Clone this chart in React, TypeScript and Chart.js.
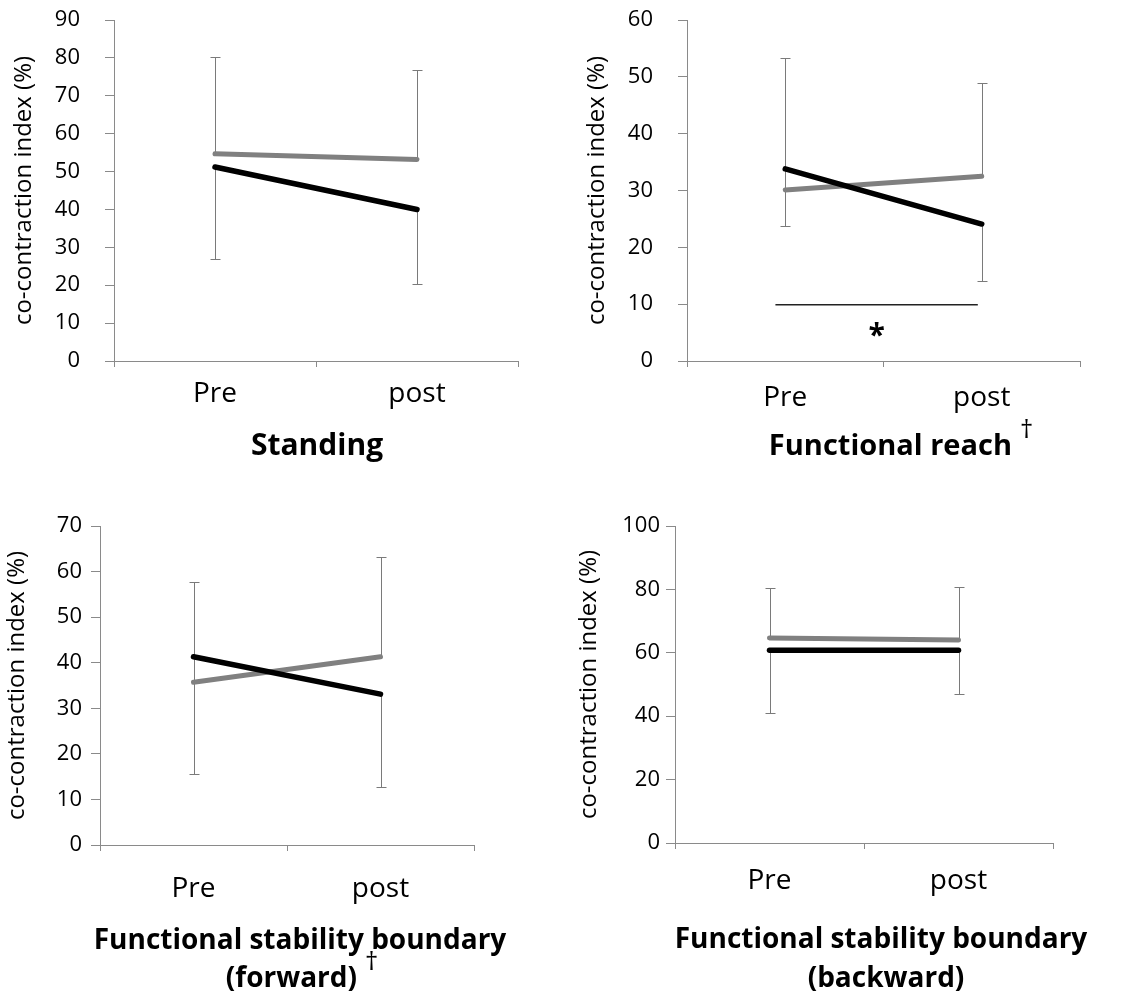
import React, { useEffect, useRef } from "react";
import { Chart, registerables } from "chart.js";
Chart.register(...registerables);

// ---------- DATA ----------
const categories = ["Pre", "post"];

// Standing
const standingGray = [54.7, 53.2];
const standingGrayPlusSD = [25.6, 23.5];
const standingBlack = [51.2, 40.0];
const standingBlackMinusSD = [24.3, 19.8];

// Functional reach
const reachGray = [30.1, 32.5];
const reachGrayPlusSD = [23.2, 16.4];
const reachBlack = [33.8, 24.1];
const reachBlackMinusSD = [10.0, 10.0];
const reachSigLineY = 9.9;
const reachSigLineFrom = -0.05;
const reachSigLineTo = 0.98;
const reachSigStarY = 5.5;

// Functional stability boundary (forward)
const forwardGray = [35.7, 41.3];
const forwardGrayPlusSD = [22.0, 21.9];
const forwardBlack = [41.3, 33.1];
const forwardBlackMinusSD = [25.8, 20.3];

// Functional stability boundary (backward)
const backwardGray = [64.7, 64.0];
const backwardGrayPlusSD = [15.8, 16.8];
const backwardBlack = [60.8, 60.8];
const backwardBlackMinusSD = [19.8, 13.9];

const yAxisMax = [90, 60, 70, 100];
const yAxisStep = [10, 10, 10, 20];
const yAxisTitle = "co-contraction index (%)";
const panelTitles = [
  [{ text: "Standing", dagger: false }],
  [{ text: "Functional reach", dagger: true }],
  [
    { text: "Functional stability boundary", dagger: false },
    { text: "(forward)", dagger: true },
  ],
  [
    { text: "Functional stability boundary", dagger: false },
    { text: "(backward)", dagger: false },
  ],
];

// ---------- STYLE / LAYOUT ----------
const FONT = "'Open Sans', sans-serif";
const AXIS_COLOR = "#8a8a8a";
const GRAY = "#808080";
const BLACK = "#000000";
const ERR_COLOR = "#7a7a7a";

type PanelCfg = {
  left: number;
  top: number;
  w: number;
  h: number;
  plotLeft: number;
  plotRight: number;
  plotTop: number;
  plotBottom: number;
  yTickPad: number;
  yTitlePad: number;
  xTickPad: number;
  titleCenters: number[];
  titleBaselines: number[];
  titleSize: number;
  gray: number[];
  grayPlus: number[];
  black: number[];
  blackMinus: number[];
  yMax: number;
  yStep: number;
  titles: { text: string; dagger: boolean }[];
  sig?: { y: number; from: number; to: number; starY: number };
};

const panels: PanelCfg[] = [
  {
    left: 0, top: 0, w: 567, h: 500,
    plotLeft: 114, plotRight: 518, plotTop: 20, plotBottom: 361,
    yTickPad: 25, yTitlePad: 10, xTickPad: 10,
    titleCenters: [317], titleBaselines: [455], titleSize: 30,
    gray: standingGray, grayPlus: standingGrayPlusSD,
    black: standingBlack, blackMinus: standingBlackMinusSD,
    yMax: yAxisMax[0], yStep: yAxisStep[0], titles: panelTitles[0],
  },
  {
    left: 567, top: 0, w: 568, h: 500,
    plotLeft: 120, plotRight: 513, plotTop: 20, plotBottom: 361,
    yTickPad: 25, yTitlePad: 16, xTickPad: 14,
    titleCenters: [334], titleBaselines: [455], titleSize: 29,
    gray: reachGray, grayPlus: reachGrayPlusSD,
    black: reachBlack, blackMinus: reachBlackMinusSD,
    yMax: yAxisMax[1], yStep: yAxisStep[1], titles: panelTitles[1],
    sig: { y: reachSigLineY, from: reachSigLineFrom, to: reachSigLineTo, starY: reachSigStarY },
  },
  {
    left: 0, top: 500, w: 567, h: 494,
    plotLeft: 100, plotRight: 474, plotTop: 26, plotBottom: 345,
    yTickPad: 9, yTitlePad: 3, xTickPad: 21,
    titleCenters: [300, 302], titleBaselines: [449, 487], titleSize: 28,
    gray: forwardGray, grayPlus: forwardGrayPlusSD,
    black: forwardBlack, blackMinus: forwardBlackMinusSD,
    yMax: yAxisMax[2], yStep: yAxisStep[2], titles: panelTitles[2],
  },
  {
    left: 567, top: 500, w: 568, h: 494,
    plotLeft: 108, plotRight: 486, plotTop: 26, plotBottom: 343,
    yTickPad: 6, yTitlePad: 8, xTickPad: 15,
    titleCenters: [314, 319], titleBaselines: [448, 487], titleSize: 28,
    gray: backwardGray, grayPlus: backwardGrayPlusSD,
    black: backwardBlack, blackMinus: backwardBlackMinusSD,
    yMax: yAxisMax[3], yStep: yAxisStep[3], titles: panelTitles[3],
  },
];

function Panel({ cfg }: { cfg: PanelCfg }) {
  const ref = useRef<HTMLCanvasElement | null>(null);

  useEffect(() => {
    if (!ref.current) return;

    const extras = {
      id: "extras",
      beforeDatasetsDraw(chart: any) {
        const ctx = chart.ctx;
        const xs = chart.scales.x;
        const ys = chart.scales.y;
        ctx.save();
        ctx.strokeStyle = ERR_COLOR;
        ctx.lineWidth = 1;
        const drawBar = (i: number, from: number, to: number) => {
          const x = Math.round(xs.getPixelForValue(i)) + 0.5;
          const y0 = ys.getPixelForValue(from);
          const y1 = Math.round(ys.getPixelForValue(to)) + 0.5;
          ctx.beginPath();
          ctx.moveTo(x, y0);
          ctx.lineTo(x, y1);
          ctx.moveTo(x - 5, y1);
          ctx.lineTo(x + 5, y1);
          ctx.stroke();
        };
        cfg.gray.forEach((v, i) => drawBar(i, v, v + cfg.grayPlus[i]));
        cfg.black.forEach((v, i) => drawBar(i, v, v - cfg.blackMinus[i]));
        ctx.restore();
      },
      afterDatasetsDraw(chart: any) {
        if (!cfg.sig) return;
        const ctx = chart.ctx;
        const xs = chart.scales.x;
        const ys = chart.scales.y;
        const s = cfg.sig;
        ctx.save();
        ctx.strokeStyle = "#222";
        ctx.lineWidth = 1.5;
        const y = ys.getPixelForValue(s.y);
        ctx.beginPath();
        ctx.moveTo(xs.getPixelForValue(s.from), y);
        ctx.lineTo(xs.getPixelForValue(s.to), y);
        ctx.stroke();
        ctx.font = `bold 30px ${FONT}`;
        ctx.fillStyle = "#000";
        ctx.textAlign = "center";
        ctx.textBaseline = "alphabetic";
        const m = ctx.measureText("*");
        const cy = ys.getPixelForValue(s.starY);
        const base = cy + (m.actualBoundingBoxAscent - m.actualBoundingBoxDescent) / 2;
        ctx.fillText("*", xs.getPixelForValue((s.from + s.to) / 2), base);
        ctx.restore();
      },
      afterDraw(chart: any) {
        const ctx = chart.ctx;
        ctx.save();
        ctx.fillStyle = "#000";
        ctx.textBaseline = "alphabetic";
        ctx.textAlign = "left";
        const tf = `bold ${cfg.titleSize}px ${FONT}`;
        const df = `26px ${FONT}`;
        cfg.titles.forEach((t, k) => {
          ctx.font = tf;
          const w = ctx.measureText(t.text).width;
          let dw = 0;
          const gap = 8;
          if (t.dagger) {
            ctx.font = df;
            dw = ctx.measureText("\u2020").width + gap;
          }
          const x0 = cfg.titleCenters[k] - (w + dw) / 2;
          const yb = cfg.titleBaselines[k];
          ctx.font = tf;
          ctx.fillText(t.text, x0, yb);
          if (t.dagger) {
            ctx.font = df;
            ctx.fillText("\u2020", x0 + w + gap, yb - 17);
          }
        });
        ctx.restore();
      },
    };

    const chart = new Chart(ref.current, {
      type: "line",
      data: {
        labels: categories,
        datasets: [
          {
            label: "black",
            data: cfg.black,
            borderColor: BLACK,
            borderWidth: 5.5,
            pointRadius: 0,
            borderCapStyle: "round",
            fill: false,
          },
          {
            label: "gray",
            data: cfg.gray,
            borderColor: GRAY,
            borderWidth: 5,
            pointRadius: 0,
            borderCapStyle: "round",
            fill: false,
          },
        ],
      },
      options: {
        animation: false,
        responsive: false,
        devicePixelRatio: 1,
        layout: {
          padding: {
            left: 0,
            top: cfg.plotTop,
            right: cfg.w - cfg.plotRight,
            bottom: 0,
          },
        },
        plugins: {
          legend: { display: false },
          tooltip: { enabled: false },
        },
        scales: {
          x: {
            type: "category",
            offset: true,
            grid: {
              offset: true,
              drawOnChartArea: false,
              drawTicks: true,
              tickLength: 6,
              color: AXIS_COLOR,
            },
            border: { display: true, color: AXIS_COLOR },
            ticks: {
              color: "#000",
              font: { family: FONT, size: 28 },
              padding: cfg.xTickPad,
              maxRotation: 0,
            },
            afterFit: (scale: any) => {
              scale.height = cfg.h - cfg.plotBottom;
              scale.paddingLeft = 0;
              scale.paddingRight = 0;
            },
          },
          y: {
            min: 0,
            max: cfg.yMax,
            grid: {
              drawOnChartArea: false,
              drawTicks: true,
              tickLength: 9,
              color: AXIS_COLOR,
            },
            border: { display: true, color: AXIS_COLOR },
            ticks: {
              stepSize: cfg.yStep,
              color: "#000",
              font: { family: FONT, size: 22 },
              padding: cfg.yTickPad,
            },
            title: {
              display: true,
              text: yAxisTitle,
              color: "#000",
              font: { family: FONT, size: 24 },
              padding: { top: cfg.yTitlePad, bottom: 0 },
            },
            afterFit: (scale: any) => {
              scale.width = cfg.plotLeft;
              scale.paddingTop = 0;
              scale.paddingBottom = 0;
            },
          },
        },
      },
      plugins: [extras],
    } as any);

    return () => chart.destroy();
  }, [cfg]);

  return (
    <div
      style={{
        position: "absolute",
        left: cfg.left,
        top: cfg.top,
        width: cfg.w,
        height: cfg.h,
      }}
    >
      <canvas
        ref={ref}
        width={cfg.w}
        height={cfg.h}
        style={{ width: cfg.w, height: cfg.h, display: "block" }}
      />
    </div>
  );
}

export default function App() {
  return (
    <div
      style={{
        position: "absolute",
        left: 0,
        top: 0,
        width: 1135,
        height: 994,
        background: "#ffffff",
        overflow: "hidden",
      }}
    >
      {panels.map((p, i) => (
        <Panel key={i} cfg={p} />
      ))}
    </div>
  );
}
